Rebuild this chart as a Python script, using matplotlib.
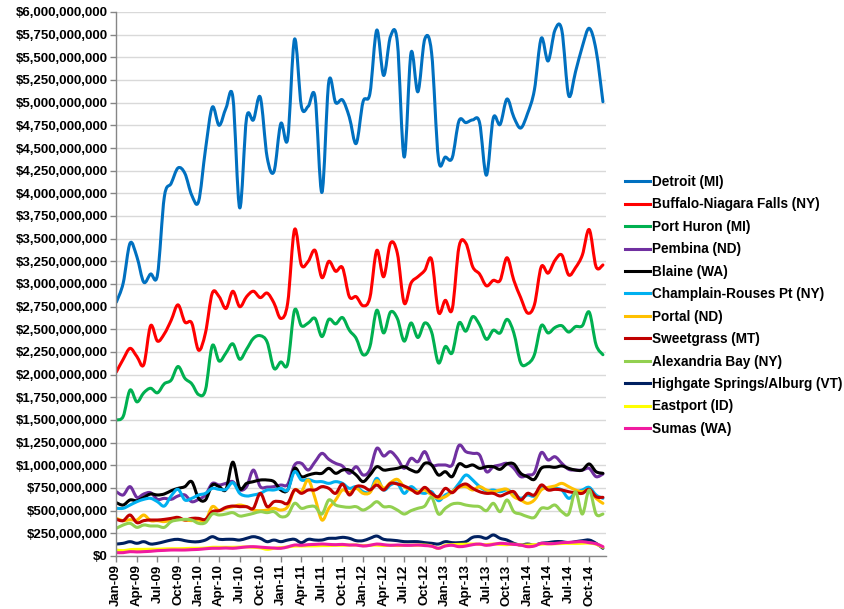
import matplotlib
matplotlib.use("Agg")
import matplotlib.pyplot as plt
import numpy as np
from matplotlib.path import Path
from matplotlib.patches import PathPatch
from matplotlib.lines import Line2D
from matplotlib.ticker import FuncFormatter

plt.rcParams['font.family'] = ['Liberation Sans', 'DejaVu Sans']

# monthly values, Jan-09 .. Dec-14, in millions of dollars
detroit = [2800, 3010, 3450, 3300, 3020, 3110, 3100, 3960, 4110, 4280, 4220, 3980,
           3910, 4480, 4950, 4750, 4940, 5060, 3840, 4830, 4810, 5060, 4400, 4240,
           4770, 4600, 5700, 4960, 4960, 5060, 4010, 5230, 5000, 5030, 4840, 4550,
           5010, 5100, 5800, 5300, 5730, 5670, 4400, 5550, 5120, 5700, 5550, 4380,
           4400, 4390, 4800, 4780, 4810, 4780, 4200, 4830, 4760, 5040, 4840, 4720,
           4880, 5140, 5710, 5460, 5800, 5800, 5080, 5340, 5620, 5820, 5580, 5010]
buffalo = [2030, 2170, 2290, 2200, 2110, 2540, 2370, 2450, 2600, 2770, 2580, 2570,
           2270, 2460, 2900, 2860, 2730, 2920, 2750, 2860, 2920, 2850, 2900, 2790,
           2620, 2790, 3600, 3210, 3250, 3370, 3070, 3250, 3140, 3180, 2860, 2860,
           2760, 2850, 3370, 3080, 3450, 3340, 2790, 3010, 3080, 3150, 3270, 2690,
           2820, 2720, 3410, 3450, 3190, 3110, 2980, 3040, 3040, 3290, 3040, 2850,
           2680, 2770, 3190, 3120, 3260, 3320, 3100, 3180, 3320, 3600, 3190, 3210]
port_huron = [1500, 1540, 1830, 1700, 1800, 1850, 1800, 1900, 1940, 2090, 1960, 1900,
              1780, 1830, 2320, 2150, 2240, 2340, 2170, 2280, 2400, 2430, 2360, 2070,
              2140, 2120, 2710, 2540, 2570, 2620, 2420, 2610, 2560, 2630, 2490, 2400,
              2220, 2310, 2710, 2460, 2690, 2620, 2370, 2570, 2410, 2570, 2470, 2130,
              2310, 2240, 2570, 2480, 2640, 2550, 2390, 2490, 2460, 2610, 2460, 2130,
              2120, 2220, 2540, 2460, 2520, 2540, 2470, 2530, 2540, 2690, 2330, 2220]
pembina = [709, 673, 765, 647, 684, 698, 625, 636, 625, 662, 673, 599,
           625, 673, 800, 783, 801, 820, 728, 765, 948, 765, 760, 765,
           783, 790, 1003, 1022, 948, 1040, 1132, 1066, 1022, 992, 912, 985,
           893, 948, 1187, 1103, 1151, 1077, 967, 1077, 1040, 1151, 1004, 1004,
           1004, 1004, 1220, 1151, 1132, 1114, 930, 985, 1004, 1022, 967, 875,
           893, 919, 1140, 1059, 1095, 1022, 956, 948, 948, 967, 875, 904]
blaine = [588, 562, 618, 610, 647, 684, 673, 684, 720, 746, 765, 820,
          636, 618, 783, 765, 735, 1035, 746, 801, 820, 838, 838, 820,
          728, 728, 967, 875, 893, 912, 912, 967, 912, 948, 948, 893,
          820, 893, 985, 948, 956, 967, 985, 948, 930, 1022, 1004, 893,
          930, 875, 1015, 985, 1004, 967, 985, 985, 956, 1015, 1015, 912,
          875, 845, 967, 985, 978, 993, 967, 948, 948, 1015, 930, 912]
champlain = [526, 526, 562, 599, 625, 636, 599, 551, 662, 735, 618, 636,
             673, 691, 746, 735, 735, 809, 691, 662, 673, 691, 728, 728,
             746, 728, 930, 838, 845, 820, 820, 801, 820, 801, 746, 765,
             709, 709, 857, 728, 783, 801, 691, 765, 709, 691, 709, 610,
             673, 709, 801, 893, 838, 765, 720, 728, 709, 728, 691, 636,
             673, 662, 765, 735, 746, 728, 636, 698, 728, 757, 673, 636]
portal = [415, 390, 400, 397, 452, 390, 390, 379, 397, 404, 397, 390,
          397, 390, 544, 500, 526, 544, 562, 544, 507, 500, 507, 526,
          507, 544, 728, 709, 838, 636, 397, 526, 618, 728, 698, 746,
          691, 700, 831, 746, 809, 845, 765, 728, 709, 728, 673, 636,
          654, 709, 757, 765, 728, 765, 728, 709, 728, 735, 654, 618,
          581, 618, 728, 757, 772, 801, 765, 728, 709, 728, 636, 581]
sweetgrass = [404, 390, 452, 368, 390, 397, 397, 404, 415, 426, 397, 415,
              415, 404, 489, 500, 537, 551, 544, 544, 526, 691, 544, 599,
              599, 581, 728, 691, 728, 728, 765, 746, 691, 794, 673, 765,
              765, 728, 783, 728, 801, 794, 772, 735, 691, 757, 691, 654,
              746, 698, 765, 794, 746, 709, 691, 691, 662, 691, 709, 618,
              691, 673, 783, 728, 735, 728, 709, 698, 691, 735, 654, 647]
alexandria = [305, 342, 360, 316, 342, 331, 331, 316, 379, 397, 404, 397,
              360, 368, 463, 452, 463, 478, 441, 452, 470, 489, 478, 489,
              434, 452, 581, 526, 544, 544, 463, 618, 562, 544, 537, 544,
              507, 544, 599, 544, 544, 507, 463, 500, 526, 551, 647, 463,
              526, 573, 581, 562, 551, 544, 500, 581, 489, 618, 489, 463,
              434, 426, 526, 526, 562, 489, 463, 709, 463, 728, 463, 463]
highgate = [132, 140, 158, 140, 158, 132, 140, 158, 176, 184, 169, 158,
            158, 176, 213, 184, 184, 184, 176, 195, 213, 195, 158, 176,
            158, 176, 184, 147, 184, 176, 176, 195, 195, 206, 195, 169,
            169, 195, 220, 184, 176, 169, 158, 158, 158, 147, 140, 132,
            158, 147, 147, 158, 206, 213, 195, 232, 195, 176, 140, 121,
            132, 121, 140, 147, 158, 158, 147, 158, 169, 176, 140, 85]
eastport = [66, 59, 70, 73, 73, 75, 75, 78, 80, 80, 82, 85,
            85, 88, 96, 96, 96, 96, 98, 100, 96, 90, 73, 85,
            92, 100, 110, 110, 112, 112, 115, 115, 118, 118, 120, 121,
            115, 118, 120, 115, 118, 115, 118, 118, 120, 121, 110, 85,
            118, 125, 128, 130, 132, 128, 125, 132, 128, 125, 130, 121,
            121, 125, 130, 135, 135, 138, 140, 138, 140, 142, 130, 96]
sumas = [37, 37, 48, 45, 48, 52, 59, 62, 66, 66, 66, 70,
         73, 80, 85, 85, 88, 85, 92, 100, 103, 98, 92, 88,
         85, 100, 121, 118, 125, 128, 132, 128, 125, 128, 121, 121,
         110, 118, 132, 125, 118, 121, 118, 118, 121, 115, 108, 85,
         110, 118, 103, 110, 125, 132, 118, 128, 140, 135, 128, 121,
         103, 110, 140, 135, 138, 147, 150, 155, 158, 147, 135, 103]

labels = ['Detroit (MI)', 'Buffalo-Niagara Falls (NY)', 'Port Huron (MI)', 'Pembina (ND)',
          'Blaine (WA)', 'Champlain-Rouses Pt (NY)', 'Portal (ND)', 'Sweetgrass (MT)',
          'Alexandria Bay (NY)', 'Highgate Springs/Alburg (VT)', 'Eastport (ID)', 'Sumas (WA)']
series = [detroit, buffalo, port_huron, pembina, blaine, champlain, portal,
          sweetgrass, alexandria, highgate, eastport, sumas]
colors = ['#0070C0', '#FF0000', '#00B050', '#7030A0', '#000000', '#00B0F0',
          '#FFC000', '#C00000', '#92D050', '#002060', '#FFFF00', '#F01BA0']

months = ['Jan', 'Feb', 'Mar', 'Apr', 'May', 'Jun', 'Jul', 'Aug', 'Sep', 'Oct', 'Nov', 'Dec']
month_labels = [f"{m}-{y:02d}" for y in range(9, 15) for m in months]


def smooth_path(x, y):
    # Excel-like smoothed line: Catmull-Rom segments as cubic Beziers
    P = np.column_stack([x, y]).astype(float)
    n = len(P)
    verts = [P[0]]
    codes = [Path.MOVETO]
    for i in range(n - 1):
        a = P[i - 1] if i > 0 else P[i]
        d = P[i + 2] if i + 2 < n else P[i + 1]
        c1 = P[i] + (P[i + 1] - a) / 6.0
        c2 = P[i + 1] - (d - P[i]) / 6.0
        verts += [c1, c2, P[i + 1]]
        codes += [Path.CURVE4] * 3
    return Path(verts, codes)


fig = plt.figure(figsize=(8.45, 6.09), dpi=100)
ax = fig.add_axes([116 / 845, 53 / 609, 490 / 845, 544 / 609])

x = np.arange(len(month_labels))
for vals, col in zip(series, colors):
    patch = PathPatch(smooth_path(x, vals), fill=False, edgecolor=col, lw=2.2,
                      capstyle='round', joinstyle='round')
    ax.add_patch(patch)

ax.set_xlim(-0.05, 71.45)
ax.set_ylim(0, 6000)
ax.set_yticks(np.arange(0, 6001, 250))
ax.yaxis.set_major_formatter(FuncFormatter(lambda v, p: f"${v * 1e6:,.0f}"))
ax.set_xticks(x[::3])
ax.set_xticklabels(month_labels[::3], rotation=90)

ax.grid(axis='y', color='#d9d9d9', lw=1.0)
ax.set_axisbelow(True)
for s in ['top', 'right']:
    ax.spines[s].set_visible(False)
for s in ['left', 'bottom']:
    ax.spines[s].set_color('#868686')
    ax.spines[s].set_linewidth(1.0)
ax.tick_params(axis='both', colors='#868686', labelcolor='black', labelsize=9.5, width=1.0)
ax.tick_params(axis='y', length=4, pad=2)
ax.tick_params(axis='x', length=4, pad=2)
for t in ax.get_xticklabels() + ax.get_yticklabels():
    t.set_fontweight('bold')

handles = [Line2D([0], [0], color=c, lw=2.2) for c in colors]
fig.legend(handles, labels, loc='upper left', bbox_to_anchor=(625 / 845, 1 - 175 / 609),
           frameon=False, prop={'weight': 'bold', 'size': 9.8}, handlelength=1.85,
           handletextpad=0.1, labelspacing=0.62, borderpad=0, borderaxespad=0)

fig.savefig('out.png', dpi=100)
